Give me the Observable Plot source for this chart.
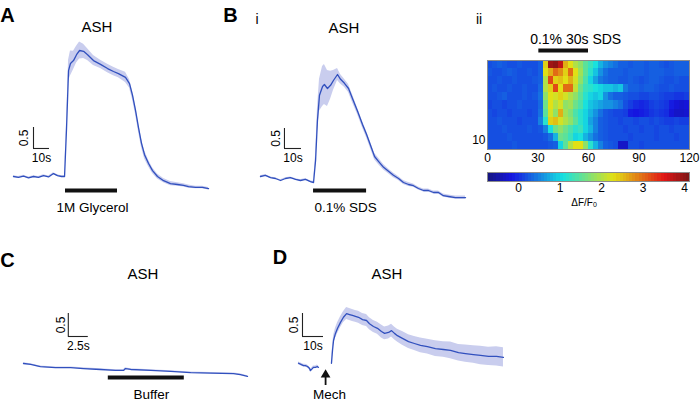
<!DOCTYPE html>
<html><head><meta charset="utf-8">
<script src="https://cdn.jsdelivr.net/npm/d3@7"></script>
<script src="https://cdn.jsdelivr.net/npm/@observablehq/plot@0.6"></script>
<style>
body{margin:0;background:#fff;}
#fig{position:relative;width:700px;height:404px;overflow:hidden;font-family:"Liberation Sans",Arial,Helvetica,sans-serif;color:#000;}
#fig svg{position:absolute;left:0;top:0;}
.lbl{position:absolute;transform:translate(-50%,-50%);line-height:1;white-space:nowrap;}
.lbl sub{font-size:0.7em;vertical-align:-0.25em;}
</style></head><body><div id="fig"></div>
<script>
// ---------------- DATA ----------------
// Panel A: ASH response to 1M glycerol (time s, dF/F, sem)
const tA = [0,3.1,6.3,9.4,12.5,15.6,18.8,21.9,25,27.5,30,31.9,33.1,34.4,35.6,37.5,39.4,41.3,43.8,46.3,50,54.4,58.8,62.5,65.6,70,72.5,74.4,76.3,78.1,80,81.9,84.4,86.9,90,93.8,98.1,102.5,106.3,109.4,113.8,118.1,121.9];
const vA = [0,-0.02,0.01,-0.03,0,-0.02,0.02,-0.01,0.07,0.02,0,0,1.1,2.52,2.69,2.76,2.9,3.0,2.98,2.9,2.76,2.67,2.57,2.5,2.45,2.36,2.21,1.93,1.57,1.17,0.79,0.52,0.31,0.14,0,-0.1,-0.17,-0.19,-0.21,-0.24,-0.26,-0.26,-0.29];
const eA = [0.02,0.02,0.02,0.02,0.02,0.02,0.02,0.02,0.02,0.02,0.02,0.02,0.15,0.25,0.3,0.22,0.2,0.2,0.17,0.14,0.12,0.1,0.1,0.1,0.1,0.12,0.1,0.1,0.1,0.1,0.1,0.1,0.08,0.07,0.06,0.05,0.05,0.04,0.04,0.04,0.03,0.03,0.03];
const stimA = [{start:32.5, end:65, level:0, label:"1M Glycerol"}];

// Panel B(i): ASH response to 0.1% SDS
const tB = [0,2.9,5.9,8.8,11.8,14.7,17.6,20.6,23.5,26.5,29.4,31.2,32.4,33.5,34.7,36.5,37.6,39.4,41.2,42.9,45.3,47.1,49.4,51.8,54.1,57.1,60,62.4,64.7,67.1,69.4,72.4,75.3,78.2,81.2,84.1,87.1,90,92.9,95.9,98.8,101.8,104.7,107.6,110.6,114.7,120.6];
const vB = [0.05,0.08,0.02,0,-0.05,0,0.02,-0.02,-0.05,-0.02,-0.08,-0.1,0.45,1.45,2.08,2.3,2.35,2.25,2.33,2.45,2.6,2.48,2.38,2.25,2.0,1.68,1.35,1.1,0.83,0.55,0.43,0.28,0.18,0.08,0,-0.1,-0.15,-0.18,-0.25,-0.3,-0.3,-0.35,-0.35,-0.43,-0.45,-0.48,-0.48];
const eB = [0.02,0.02,0.02,0.02,0.02,0.02,0.02,0.02,0.02,0.02,0.02,0.03,0.15,0.3,0.4,0.5,0.5,0.45,0.35,0.25,0.15,0.12,0.1,0.1,0.1,0.08,0.08,0.08,0.08,0.08,0.08,0.07,0.06,0.06,0.05,0.05,0.05,0.04,0.04,0.04,0.04,0.04,0.04,0.04,0.04,0.04,0.04];
const stimB = [{start:31.2, end:62.4, level:0, label:"0.1% SDS"}];

// Panel B(ii): heat map, 11 animals x 40 bins of 3 s (0-120 s), dF/F0
const binSec = 3;
const heatRows = [
 [0.2,0.25,0.3,0.25,0.2,0.2,0.25,0.2,0.2,0.2,0.3,2.4,3.9,4.0,3.7,2.6,2.3,2.0,1.8,1.5,1.3,1.1,0.8,0.6,0.5,0.4,0.3,0.3,0.25,0.3,0.3,0.25,0.3,0.3,0.25,0.2,0.25,0.3,0.3,0.3],
 [0.25,0.2,0.2,0.25,0.3,0.25,0.2,0.2,0.25,0.2,0.3,2.3,2.6,3.0,2.8,2.4,3.0,2.3,1.9,1.5,1.2,0.9,0.6,0.4,0.3,0.3,0.3,0.25,0.3,0.3,0.3,0.25,0.3,0.3,0.3,0.25,0.25,0.3,0.3,0.3],
 [0.2,0.2,0.25,0.2,0.2,0.25,0.2,0.2,0.2,0.25,0.3,2.0,3.2,2.4,2.5,2.3,2.6,2.2,1.8,1.4,1.0,0.7,0.45,0.35,0.3,0.3,0.25,0.25,0.3,0.25,0.2,0.25,0.3,0.3,0.25,0.2,0.2,0.25,0.2,0.2],
 [0.2,0.25,0.2,0.2,0.25,0.2,0.2,0.25,0.2,0.2,0.35,2.0,2.4,3.2,2.3,3.0,3.0,2.1,1.6,1.3,1.2,1.1,1.0,0.9,0.9,0.8,0.9,0.45,0.3,0.3,0.25,0.3,0.3,0.25,0.2,0.2,0.25,0.2,0.2,0.2],
 [0.2,0.2,0.25,0.3,0.2,0.2,0.2,0.25,0.2,0.25,0.4,1.8,2.3,2.2,2.4,2.2,2.0,1.8,1.5,1.2,1.0,0.9,1.0,0.6,0.4,0.3,0.3,0.25,0.2,0.2,0.15,0.15,0.2,0.2,0.15,0.1,0.1,0.05,0.05,0.1],
 [0.15,0.2,0.2,0.15,0.2,0.2,0.25,0.2,0.2,0.2,0.35,1.6,2.3,2.0,2.2,1.8,1.9,1.6,1.4,1.1,0.9,0.8,0.7,0.6,0.6,0.5,0.4,0.2,0.1,0.0,-0.05,0.0,0.1,0.15,0.1,0.05,-0.1,-0.2,-0.25,-0.2],
 [0.2,0.15,0.2,0.2,0.15,0.2,0.2,0.2,0.15,0.2,0.4,1.5,2.2,1.8,2.6,1.9,1.7,1.4,1.2,1.0,0.8,0.6,0.4,0.25,0.2,0.15,0.15,0.1,-0.1,-0.15,-0.1,-0.05,0.05,0.1,0.05,0.0,-0.2,-0.3,-0.3,-0.25],
 [0.2,0.2,0.25,0.2,0.2,0.2,0.15,0.2,0.2,0.2,0.5,1.2,2.4,2.5,2.2,2.0,1.8,1.5,1.2,1.0,0.7,0.5,0.3,0.25,0.2,0.2,0.15,0.2,0.2,0.15,0.2,0.2,0.15,0.2,0.15,0.1,0.1,0.15,0.1,0.1],
 [0.2,0.2,0.2,0.25,0.2,0.2,0.2,0.2,0.25,0.2,0.25,0.5,1.1,1.6,1.8,1.6,1.4,1.2,1.3,1.0,0.8,0.5,0.3,0.25,0.2,0.2,0.2,0.15,0.2,0.2,0.15,0.2,0.2,0.15,0.2,0.2,0.15,0.2,0.2,0.2],
 [0.2,0.2,0.2,0.2,0.25,0.2,0.2,0.2,0.2,0.2,0.2,0.25,0.4,0.8,1.6,1.5,1.3,1.0,1.1,0.8,0.6,0.4,0.3,0.25,0.2,0.2,0.2,0.2,0.15,0.2,0.2,0.2,0.2,0.15,0.2,0.2,0.2,0.15,0.2,0.2],
 [0.2,0.2,0.2,0.2,0.2,0.25,0.2,0.2,0.2,0.2,0.2,0.2,0.25,0.3,1.0,1.5,2.0,2.3,2.3,1.8,1.2,0.8,0.5,0.3,0.25,0.2,-0.3,-0.3,0.2,0.2,0.15,0.2,0.2,0.2,0.2,0.2,0.2,0.2,0.2,0.2]
];
const heatXTicks = [0, 30, 60, 90, 120];
const heatYTicks = [10];
const colorDomain = [-0.75, 4.12];
const colorTicks = [0, 1, 2, 3, 4];
const stimHeat = [{start:30.5, end:60, label:"0.1% 30s SDS"}];

// Panel C: buffer control
const tC = [0,0.9,2.1,4,5.9,7.5,9.6,11.5,12.5,12.75,13.4,15.9,18.4,20.9,23.4,26.25,27.1,28];
const vC = [0,-0.02,-0.07,-0.09,-0.09,-0.11,-0.13,-0.15,-0.15,-0.11,-0.13,-0.15,-0.17,-0.2,-0.21,-0.22,-0.24,-0.28];
const eC = [0.015,0.015,0.015,0.015,0.015,0.015,0.015,0.015,0.015,0.015,0.015,0.015,0.015,0.015,0.015,0.015,0.015,0.015];
const stimC = [{start:10.6, end:20.1, level:0, label:"Buffer"}];

// Panel D: mechanical stimulus (pre and post segments)
const tDpre = [0,1.4,2.4,3.3,4.3,5.2,5.7,6.7,7.1,8.1,9,9.5];
const vDpre = [0.07,0.04,0.02,0.02,0,-0.04,-0.09,-0.04,-0.02,-0.02,0,-0.02];
const eDpre = [0.03,0.03,0.03,0.03,0.03,0.03,0.03,0.03,0.03,0.03,0.03,0.03];
const tDpost = [15.7,16.2,16.7,17.6,18.6,20,21.4,22.9,24.3,25.7,27.1,28.6,30.5,32.4,33.8,35.7,37.6,39.5,41,42.9,44.3,45.7,47.1,49.5,52.4,55.2,58.1,61.4,65.2,69,72.4,76.2,79.5,83.3,86.7,90.5,94.3,97.6];
const vDpost = [0.07,0.35,0.57,0.72,0.83,0.96,1.07,1.15,1.13,1.11,1.09,1.07,1.02,1.0,0.93,0.87,0.83,0.76,0.72,0.74,0.78,0.72,0.67,0.61,0.54,0.5,0.46,0.43,0.39,0.37,0.35,0.3,0.28,0.26,0.24,0.22,0.22,0.2];
const eDpost = [0.04,0.08,0.1,0.11,0.12,0.12,0.12,0.13,0.13,0.13,0.13,0.13,0.13,0.13,0.13,0.13,0.13,0.14,0.14,0.14,0.14,0.14,0.14,0.15,0.15,0.15,0.16,0.16,0.17,0.17,0.18,0.18,0.19,0.19,0.2,0.2,0.21,0.21];
const mechD = [{t:12.9, label:"Mech"}];

// Scale bars (time length, dF/F length, labels)
const barA = {tLen:10, vLen:0.5, tLabel:"10s", vLabel:"0.5"};
const barB = {tLen:10, vLen:0.5, tLabel:"10s", vLabel:"0.5"};
const barC = {tLen:2.5, vLen:0.5, tLabel:"2.5s", vLabel:"0.5"};
const barD = {tLen:10, vLen:0.5, tLabel:"10s", vLabel:"0.5"};

// ---------------- LAYOUT / STYLE ----------------
const LINE = "#3150be", BAND = "#c9cdee", INK = "#111";
const FONT = '"Liberation Sans", Arial, Helvetica, sans-serif';
const STYLE = {background:"none", overflow:"visible", fontFamily: FONT, color:"#000"};
const zip = (t, v, e) => t.map((d, i) => ({t: d, v: v[i], e: e[i]}));

function jet(t) {
  const c = x => Math.max(0, Math.min(1, x));
  const r = c(1.5 - Math.abs(4*t - 3)), g = c(1.5 - Math.abs(4*t - 2)), b = c(1.5 - Math.abs(4*t - 1));
  const m = 0.8, gr = 0.42;
  const f = x => Math.round(255 * (x*m + gr*(1-m)));
  return `rgb(${f(r)},${f(g)},${f(b)})`;
}

// layout per trace panel: origin px, px per second, px per dF/F unit, annotation offsets
const LA = {x0:13, pxs:1.6, y0:176, pxu:42, barDy:14, lblDy:31, lblDx:1, sbX:12.5, sbY:0.667, vdx:-9, tdy:10};
const LB = {x0:260, pxs:1.7, y0:178, pxu:40, barDy:12, lblDy:29.5, lblDx:5.5, sbX:14.1, sbY:0.75, vdx:-8.5, tdy:9.5};
const LC = {x0:23, pxs:8, y0:363, pxu:46, barDy:14, lblDy:31, lblDx:5, sbX:5.6, sbY:0.587, vdx:-7, tdy:10};
const LD = {x0:298, pxs:2.1, y0:366, pxu:46, sbX:1.9, sbY:0.652, vdx:-8, tdy:10, arrowTop:8.5, arrowBot:19, headPx:8.3, mechDy:28};

function tracePlot(L, series, stim, bar, extra) {
  const sb = [{...bar, x: L.sbX, y: L.sbY}];
  const marks = [
    ...series.map(s => Plot.areaY(s, {x:"t", y1: d => d.v - d.e, y2: d => d.v + d.e, fill: BAND})),
    ...series.map(s => Plot.lineY(s, {x:"t", y:"v", stroke: LINE, strokeWidth: 1.3})),
    Plot.ruleX(sb, {x:"x", y1:"y", y2: d => d.y + d.vLen, stroke:"#222", strokeWidth:1.1}),
    Plot.ruleY(sb, {y:"y", x1:"x", x2: d => d.x + d.tLen, stroke:"#222", strokeWidth:1.1}),
    Plot.text(sb, {x: d => d.x + d.tLen/2, y:"y", text:"tLabel", dy: L.tdy, fontSize: 12}),
    Plot.text(sb, {x:"x", y: d => d.y + d.vLen/2, text:"vLabel", rotate:-90, dx: L.vdx, fontSize: 12})
  ];
  if (stim) {
    marks.push(Plot.ruleY(stim, {y:"level", x1:"start", x2:"end", dy: L.barDy, stroke: INK, strokeWidth: 4}));
    marks.push(Plot.text(stim, {x: d => (d.start + d.end)/2, y:"level", text:"label", dy: L.lblDy, dx: L.lblDx, fontSize: 13.5}));
  }
  if (extra) marks.push(...extra);
  return Plot.plot({
    width:700, height:404, margin:0, style: STYLE,
    x:{axis:null, domain:[0,100], range:[L.x0, L.x0 + 100*L.pxs]},
    y:{axis:null, domain:[0,1], range:[L.y0, L.y0 - L.pxu]},
    marks
  });
}

const fig = document.getElementById("fig");

fig.appendChild(tracePlot(LA, [zip(tA, vA, eA)], stimA, barA));
fig.appendChild(tracePlot(LB, [zip(tB, vB, eB)], stimB, barB));
fig.appendChild(tracePlot(LC, [zip(tC, vC, eC)], stimC, barC));
fig.appendChild(tracePlot(LD, [zip(tDpre, vDpre, eDpre), zip(tDpost, vDpost, eDpost)], null, barD, [
  Plot.ruleX(mechD, {x:"t", y1: () => -LD.arrowBot/LD.pxu, y2: () => -LD.arrowTop/LD.pxu, stroke: INK, strokeWidth: 1.8}),
  Plot.dot(mechD, {x:"t", y: () => -LD.headPx/LD.pxu, symbol:"triangle", r: 3.6, fill: INK, stroke: "none"}),
  Plot.text(mechD, {x:"t", y: () => 0, text:"label", dy: LD.mechDy, dx: 4, fontSize: 13.5})
]));

// Heat map
const cells = heatRows.flatMap((row, ri) => row.map((v, k) => ({row: ri + 1, t0: k*binSec, t1: (k+1)*binSec, v})));
const colorOpts = {type:"linear", domain: colorDomain, interpolate: jet, clamp: true};
fig.appendChild(Plot.plot({
  width:700, height:404, style: STYLE,
  marginLeft:487, marginRight:11, marginTop:60, marginBottom:255,
  x:{domain:[0,120]},
  y:{domain:[0.5, heatRows.length + 0.5], reverse:true},
  color: colorOpts,
  marks:[
    Plot.rect(cells, {x1:"t0", x2:"t1", y1: d => d.row - 0.5, y2: d => d.row + 0.5, fill:"v", shapeRendering:"crispEdges"}),
    Plot.frame({stroke:"#8c8c8c", strokeWidth:1}),
    Plot.axisX({ticks: heatXTicks, tickSize:0, tickPadding:4, fontSize:12, label:null, tickFormat: d => String(d)}),
    Plot.axisY({ticks: heatYTicks, tickSize:0, tickPadding:2, fontSize:12, label:null, dy:3, tickFormat: d => String(d)}),
    Plot.ruleY(stimHeat, {y: () => 0.5, x1:"start", x2:"end", dy:-10, stroke: INK, strokeWidth:4}),
    Plot.text(stimHeat, {x: d => (d.start + d.end)/2, y: () => 0.5, text:"label", dy:-21, dx:12, fontSize:14})
  ]
}));

// Colour bar
const nSteps = 64;
const step = (colorDomain[1] - colorDomain[0]) / nSteps;
const ramp = d3.range(nSteps).map(i => ({a: colorDomain[0] + i*step, b: colorDomain[0] + (i+1)*step}));
fig.appendChild(Plot.plot({
  width:700, height:404, style: STYLE,
  marginLeft:487, marginRight:11, marginTop:172, marginBottom:223,
  x:{domain: colorDomain},
  y:{domain:[0,1], axis:null},
  color: colorOpts,
  marks:[
    Plot.rect(ramp, {x1:"a", x2:"b", y1: () => 0, y2: () => 1, fill: d => (d.a + d.b)/2, shapeRendering:"crispEdges"}),
    Plot.frame({stroke:"#8c8c8c", strokeWidth:1}),
    Plot.axisX({ticks: colorTicks, tickSize:0, tickPadding:2, fontSize:12, label:null, tickFormat: d => String(d)})
  ]
}));

// Panel letters and titles
const labels = [
  {html:"A", x:7.5, y:15, size:20, bold:true},
  {html:"B", x:230.5, y:15, size:20, bold:true},
  {html:"C", x:7.5, y:260, size:20, bold:true},
  {html:"D", x:280, y:256.5, size:20, bold:true},
  {html:"i", x:257, y:18.5, size:14},
  {html:"ii", x:479, y:18.5, size:14},
  {html:"ASH", x:97, y:25.5, size:15},
  {html:"ASH", x:344, y:26.5, size:15},
  {html:"ASH", x:143, y:272.5, size:15},
  {html:"ASH", x:387, y:272.5, size:15},
  {html:"ΔF/F<sub>0</sub>", x:584, y:203, size:10}
];
for (const l of labels) {
  const d = document.createElement("div");
  d.className = "lbl";
  d.style.left = l.x + "px"; d.style.top = l.y + "px";
  d.style.fontSize = l.size + "px";
  if (l.bold) d.style.fontWeight = "bold";
  d.innerHTML = l.html;
  fig.appendChild(d);
}
</script></body></html>
